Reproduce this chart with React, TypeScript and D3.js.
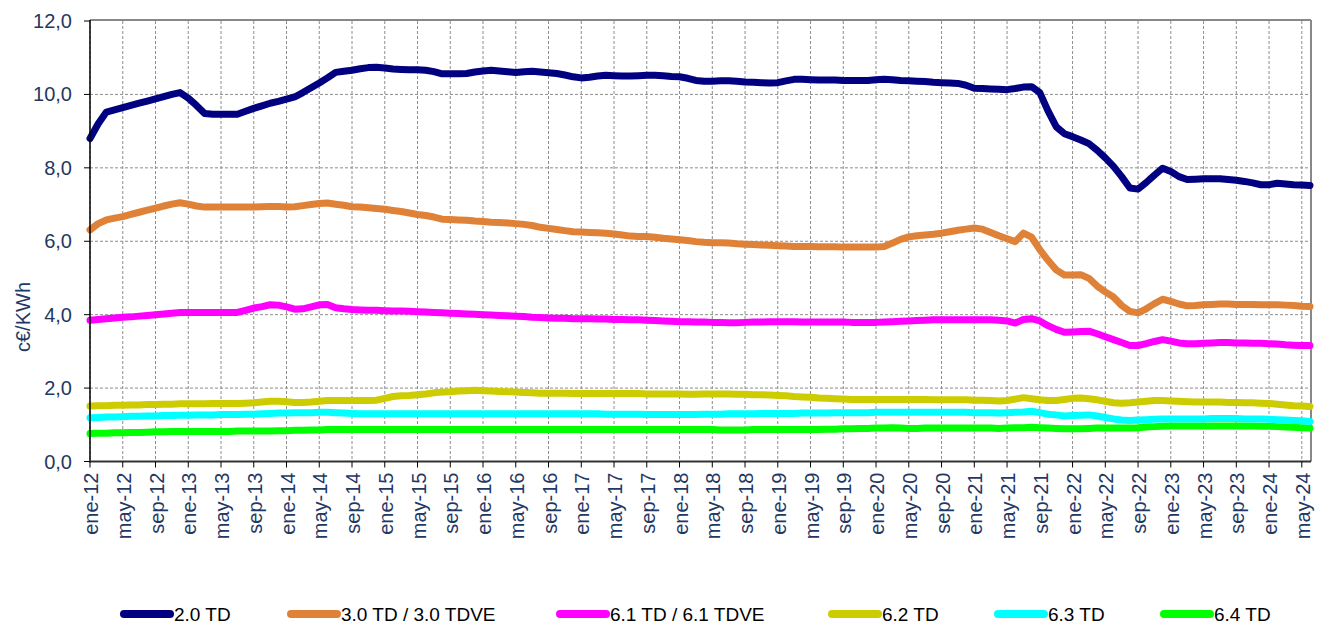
import React from "react";
import * as d3 from "d3";

const MONTHS = ["ene", "feb", "mar", "abr", "may", "jun", "jul", "ago", "sep", "oct", "nov", "dic"];
const YEARS = [12, 13, 14, 15, 16, 17, 18, 19, 20, 21, 22, 23, 24];
const N_MONTHS = 150; // ene-12 .. jun-24
const Y_TICKS = [0, 2, 4, 6, 8, 10, 12];

const s20TD = [
  8.80, 9.20, 9.52, 9.58, 9.64, 9.70, 9.76, 9.82, 9.88, 9.94, 10.00, 10.05,
  9.90, 9.70, 9.48, 9.46, 9.46, 9.46, 9.46, 9.54, 9.62, 9.69, 9.76, 9.81,
  9.87, 9.93, 10.05, 10.18, 10.31, 10.45, 10.60, 10.63, 10.66, 10.70, 10.73, 10.74,
  10.72, 10.69, 10.68, 10.67, 10.67, 10.66, 10.62, 10.56, 10.56, 10.56, 10.57, 10.61,
  10.64, 10.66, 10.64, 10.62, 10.60, 10.62, 10.63, 10.61, 10.59, 10.57, 10.53, 10.48,
  10.45, 10.47, 10.50, 10.52, 10.51, 10.50, 10.50, 10.51, 10.52, 10.52, 10.51, 10.49,
  10.48, 10.44, 10.38, 10.36, 10.36, 10.37, 10.37, 10.36, 10.34, 10.33, 10.32, 10.31,
  10.32, 10.37, 10.41, 10.41, 10.40, 10.39, 10.39, 10.39, 10.38, 10.38, 10.38, 10.38,
  10.40, 10.41, 10.40, 10.38, 10.37, 10.36, 10.35, 10.33, 10.32, 10.31, 10.30, 10.25,
  10.17, 10.16, 10.15, 10.14, 10.13, 10.16, 10.20, 10.21, 10.05, 9.55, 9.12, 8.93,
  8.85, 8.76, 8.66, 8.48, 8.27, 8.04, 7.76, 7.45, 7.42, 7.60, 7.80, 7.99,
  7.90, 7.76, 7.68, 7.69, 7.70, 7.70, 7.70, 7.68, 7.66, 7.63, 7.59, 7.54,
  7.54, 7.58, 7.56, 7.54, 7.53, 7.52,
];

const s30TD = [
  6.31, 6.48, 6.58, 6.63, 6.67, 6.73, 6.79, 6.85, 6.90, 6.96, 7.01, 7.05,
  7.01, 6.96, 6.93, 6.93, 6.93, 6.93, 6.93, 6.93, 6.93, 6.94, 6.95, 6.95,
  6.93, 6.94, 6.97, 7.00, 7.03, 7.04, 7.01, 6.98, 6.94, 6.93, 6.91, 6.89,
  6.87, 6.84, 6.81, 6.77, 6.73, 6.70, 6.66, 6.60, 6.59, 6.58, 6.57, 6.55,
  6.54, 6.52, 6.51, 6.50, 6.48, 6.46, 6.43, 6.38, 6.35, 6.32, 6.29, 6.26,
  6.25, 6.24, 6.23, 6.22, 6.20, 6.17, 6.14, 6.13, 6.13, 6.11, 6.08, 6.06,
  6.04, 6.02, 5.99, 5.97, 5.96, 5.96, 5.95, 5.93, 5.92, 5.91, 5.90, 5.89,
  5.88, 5.87, 5.86, 5.86, 5.86, 5.85, 5.85, 5.85, 5.84, 5.84, 5.84, 5.84,
  5.84, 5.86, 5.95, 6.05, 6.12, 6.15, 6.17, 6.19, 6.22, 6.26, 6.30, 6.33,
  6.36, 6.33, 6.24, 6.15, 6.07, 5.99, 6.22, 6.11, 5.77, 5.48, 5.22, 5.08,
  5.08, 5.09, 4.99, 4.78, 4.62, 4.48, 4.25, 4.09, 4.05, 4.16, 4.30, 4.42,
  4.36, 4.29, 4.24, 4.25, 4.27, 4.28, 4.29, 4.29, 4.28, 4.28, 4.28, 4.27,
  4.27, 4.27, 4.26, 4.25, 4.23, 4.22,
];

const s61TD = [
  3.85, 3.87, 3.89, 3.91, 3.93, 3.94, 3.96, 3.98, 4.00, 4.02, 4.04, 4.06,
  4.06, 4.06, 4.06, 4.06, 4.06, 4.06, 4.06, 4.12, 4.18, 4.22, 4.27, 4.26,
  4.21, 4.15, 4.16, 4.21, 4.27, 4.28, 4.19, 4.16, 4.14, 4.13, 4.12, 4.12,
  4.11, 4.10, 4.10, 4.09, 4.08, 4.07, 4.06, 4.05, 4.04, 4.03, 4.02, 4.01,
  4.00, 3.99, 3.98, 3.97, 3.96, 3.95, 3.93, 3.92, 3.91, 3.90, 3.90, 3.89,
  3.89, 3.89, 3.88, 3.88, 3.87, 3.87, 3.86, 3.86, 3.85, 3.84, 3.83, 3.82,
  3.81, 3.81, 3.80, 3.80, 3.79, 3.79, 3.78, 3.78, 3.79, 3.80, 3.80, 3.81,
  3.81, 3.81, 3.81, 3.80, 3.80, 3.80, 3.80, 3.80, 3.80, 3.79, 3.79, 3.79,
  3.79, 3.80, 3.81, 3.82, 3.83, 3.84, 3.85, 3.86, 3.86, 3.86, 3.86, 3.86,
  3.86, 3.86, 3.86, 3.85, 3.83, 3.77, 3.87, 3.89, 3.83, 3.70, 3.60, 3.52,
  3.53, 3.54, 3.55, 3.48, 3.40, 3.32, 3.24, 3.16, 3.16, 3.21, 3.27, 3.32,
  3.28, 3.23, 3.21, 3.21, 3.22, 3.23, 3.24, 3.24, 3.23, 3.23, 3.22, 3.22,
  3.21, 3.20, 3.18, 3.17, 3.16, 3.16,
];

const s62TD = [
  1.51, 1.52, 1.52, 1.53, 1.53, 1.54, 1.54, 1.55, 1.55, 1.56, 1.56, 1.57,
  1.57, 1.57, 1.57, 1.58, 1.58, 1.58, 1.58, 1.59, 1.60, 1.62, 1.64, 1.64,
  1.63, 1.61, 1.61, 1.62, 1.64, 1.66, 1.66, 1.66, 1.66, 1.66, 1.66, 1.67,
  1.72, 1.77, 1.79, 1.80, 1.82, 1.84, 1.87, 1.89, 1.90, 1.92, 1.93, 1.94,
  1.93, 1.92, 1.91, 1.90, 1.89, 1.88, 1.87, 1.86, 1.86, 1.86, 1.86, 1.85,
  1.85, 1.85, 1.85, 1.85, 1.85, 1.85, 1.85, 1.85, 1.84, 1.84, 1.84, 1.84,
  1.84, 1.83, 1.83, 1.84, 1.84, 1.84, 1.84, 1.83, 1.83, 1.82, 1.82, 1.81,
  1.80, 1.79, 1.77, 1.76, 1.75, 1.73, 1.72, 1.71, 1.70, 1.69, 1.69, 1.69,
  1.69, 1.69, 1.69, 1.69, 1.69, 1.69, 1.69, 1.68, 1.68, 1.68, 1.68, 1.68,
  1.67, 1.67, 1.66, 1.65, 1.66, 1.70, 1.74, 1.71, 1.68, 1.66, 1.66, 1.69,
  1.72, 1.73, 1.71, 1.68, 1.64, 1.60, 1.59, 1.60, 1.62, 1.64, 1.66, 1.66,
  1.65, 1.64, 1.63, 1.62, 1.62, 1.62, 1.62, 1.61, 1.61, 1.60, 1.60, 1.59,
  1.58, 1.56, 1.54, 1.52, 1.51, 1.50,
];

const s63TD = [
  1.19, 1.20, 1.21, 1.21, 1.22, 1.23, 1.23, 1.24, 1.24, 1.25, 1.25, 1.26,
  1.26, 1.27, 1.27, 1.27, 1.28, 1.28, 1.28, 1.29, 1.29, 1.30, 1.31, 1.32,
  1.32, 1.33, 1.33, 1.33, 1.34, 1.34, 1.33, 1.32, 1.31, 1.30, 1.30, 1.30,
  1.30, 1.30, 1.30, 1.30, 1.30, 1.30, 1.30, 1.30, 1.30, 1.30, 1.30, 1.30,
  1.30, 1.30, 1.30, 1.30, 1.30, 1.30, 1.30, 1.30, 1.30, 1.30, 1.30, 1.30,
  1.30, 1.30, 1.30, 1.29, 1.29, 1.29, 1.29, 1.29, 1.28, 1.28, 1.28, 1.28,
  1.28, 1.28, 1.28, 1.29, 1.29, 1.29, 1.30, 1.30, 1.30, 1.30, 1.31, 1.31,
  1.31, 1.31, 1.31, 1.32, 1.32, 1.32, 1.32, 1.33, 1.33, 1.33, 1.33, 1.33,
  1.34, 1.34, 1.34, 1.34, 1.34, 1.34, 1.34, 1.34, 1.34, 1.34, 1.34, 1.34,
  1.33, 1.33, 1.33, 1.32, 1.33, 1.34, 1.35, 1.37, 1.33, 1.29, 1.27, 1.24,
  1.25, 1.26, 1.27, 1.24, 1.20, 1.16, 1.13, 1.12, 1.13, 1.14, 1.15, 1.16,
  1.16, 1.16, 1.16, 1.16, 1.16, 1.17, 1.17, 1.17, 1.17, 1.16, 1.16, 1.16,
  1.15, 1.14, 1.13, 1.12, 1.11, 1.09,
];

const s64TD = [
  0.76, 0.77, 0.77, 0.78, 0.78, 0.79, 0.79, 0.80, 0.81, 0.81, 0.82, 0.82,
  0.82, 0.82, 0.82, 0.82, 0.82, 0.82, 0.83, 0.83, 0.83, 0.83, 0.83, 0.84,
  0.84, 0.85, 0.85, 0.86, 0.86, 0.87, 0.87, 0.87, 0.87, 0.87, 0.87, 0.87,
  0.87, 0.87, 0.87, 0.87, 0.87, 0.87, 0.87, 0.87, 0.87, 0.87, 0.87, 0.87,
  0.87, 0.87, 0.87, 0.87, 0.87, 0.87, 0.87, 0.87, 0.87, 0.87, 0.87, 0.87,
  0.87, 0.87, 0.87, 0.87, 0.87, 0.87, 0.87, 0.87, 0.87, 0.87, 0.87, 0.87,
  0.87, 0.87, 0.87, 0.87, 0.87, 0.86, 0.86, 0.86, 0.86, 0.87, 0.87, 0.87,
  0.87, 0.87, 0.87, 0.87, 0.87, 0.87, 0.88, 0.88, 0.89, 0.89, 0.90, 0.90,
  0.91, 0.91, 0.92, 0.91, 0.90, 0.90, 0.91, 0.91, 0.91, 0.91, 0.91, 0.91,
  0.91, 0.91, 0.91, 0.90, 0.91, 0.92, 0.92, 0.93, 0.92, 0.91, 0.90, 0.89,
  0.89, 0.89, 0.90, 0.91, 0.91, 0.91, 0.91, 0.91, 0.92, 0.94, 0.95, 0.96,
  0.97, 0.97, 0.97, 0.97, 0.97, 0.97, 0.97, 0.97, 0.97, 0.97, 0.97, 0.96,
  0.96, 0.95, 0.94, 0.93, 0.92, 0.91,
];

const SERIES_NAMES = ["2.0 TD", "3.0 TD / 3.0 TDVE", "6.1 TD / 6.1 TDVE", "6.2 TD", "6.3 TD", "6.4 TD"];
const SERIES_VALUES = [s20TD, s30TD, s61TD, s62TD, s63TD, s64TD];
const SERIES_COLORS = ["#000080", "#DF8238", "#FF00FF", "#CCCC00", "#00FFFF", "#00FF00"];

const CATEGORIES: string[] = [];
for (let i = 0; i < N_MONTHS; i++) {
  CATEGORIES.push(`${MONTHS[i % 12]}-${YEARS[Math.floor(i / 12)]}`);
}

const W = 1321;
const H = 625;
const M = { left: 90, right: 1310, top: 21, bottom: 461.5 };
const TEXT_COLOR = "#1F3864";
const FONT = "Arial, 'Liberation Sans', sans-serif";

const LEGEND_X = [120, 287, 556, 828, 994, 1160];
const LEGEND_Y = 614;

export default function App() {
  const x = d3.scaleLinear().domain([0, N_MONTHS - 1]).range([M.left, M.right]);
  const y = d3.scaleLinear().domain([0, 12]).range([M.bottom, M.top]);
  const tickIdx = d3.range(0, N_MONTHS, 4);
  const line = d3
    .line<number>()
    .x((_, i) => x(i))
    .y((d) => y(d))
    .curve(d3.curveLinear);
  const fmt = (v: number) => v.toFixed(1).replace(".", ",");

  return (
    <svg width={W} height={H} style={{ position: "absolute", left: 0, top: 0, background: "#fff" }}>
      <rect x={0} y={0} width={W} height={H} fill="#fff" />
      {/* grid */}
      <g stroke="#8c8c8c" strokeWidth={1} strokeDasharray="3,2">
        {tickIdx.map((i) => (
          <line key={"v" + i} x1={x(i)} x2={x(i)} y1={M.top} y2={M.bottom} />
        ))}
        {Y_TICKS.filter((v) => v > 0 && v < 12).map((v) => (
          <line key={"h" + v} x1={M.left} x2={M.right} y1={y(v)} y2={y(v)} />
        ))}
      </g>
      {/* borders */}
      <line x1={M.left} x2={M.right + 1} y1={M.top - 1} y2={M.top - 1} stroke="#888" strokeWidth={2} />
      <line x1={M.right + 1} x2={M.right + 1} y1={M.top - 1} y2={M.bottom} stroke="#888" strokeWidth={2} />
      {/* series */}
      <g fill="none" strokeLinejoin="round" strokeLinecap="round">
        {SERIES_VALUES.map((vals, k) => (
          <path key={k} d={line(vals) || ""} stroke={SERIES_COLORS[k]} strokeWidth={7} />
        )).reverse()}
      </g>
      {/* axes */}
      <line x1={M.left} x2={M.left} y1={M.top - 1} y2={M.bottom + 1} stroke="#000" strokeWidth={1.5} />
      <line x1={M.left} x2={M.right + 1} y1={M.bottom} y2={M.bottom} stroke="#333" strokeWidth={1.8} />
      <g stroke="#000" strokeWidth={1}>
        {Y_TICKS.map((v) => (
          <line key={"yt" + v} x1={M.left - 6} x2={M.left} y1={y(v)} y2={y(v)} />
        ))}
        {tickIdx.map((i) => (
          <line key={"xt" + i} x1={x(i)} x2={x(i)} y1={M.bottom} y2={M.bottom + 6} />
        ))}
      </g>
      <g fontFamily={FONT} fontSize={20} fill={TEXT_COLOR}>
        {Y_TICKS.map((v) => (
          <text key={"yl" + v} x={72} y={y(v)} textAnchor="end" dominantBaseline="central">
            {fmt(v)}
          </text>
        ))}
        {tickIdx.map((i) => (
          <text
            key={"xl" + i}
            transform={`translate(${x(i) + 1},${M.bottom + 11}) rotate(-90)`}
            textAnchor="end"
            dominantBaseline="central"
          >
            {CATEGORIES[i]}
          </text>
        ))}
        <text transform={`translate(23,317) rotate(-90)`} textAnchor="middle" dominantBaseline="central">
          c€/KWh
        </text>
      </g>
      {/* legend */}
      <g fontFamily={FONT} fontSize={19} fill="#000">
        {SERIES_NAMES.map((n, k) => (
          <g key={n}>
            <line
              x1={LEGEND_X[k] + 4}
              x2={LEGEND_X[k] + 50}
              y1={LEGEND_Y}
              y2={LEGEND_Y}
              stroke={SERIES_COLORS[k]}
              strokeWidth={8}
              strokeLinecap="round"
            />
            <text x={LEGEND_X[k] + 54} y={LEGEND_Y} dominantBaseline="central">
              {n}
            </text>
          </g>
        ))}
      </g>
    </svg>
  );
}
